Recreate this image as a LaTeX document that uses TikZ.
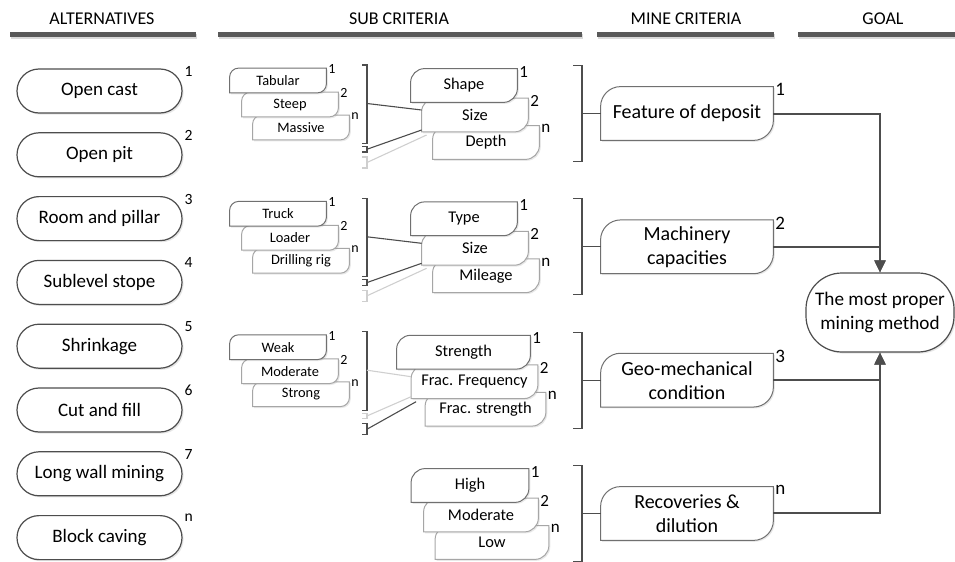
\documentclass[tikz,border=0pt]{standalone}
\usepackage{fontspec}
\setmainfont{Carlito}
\usetikzlibrary{positioning,arrows.meta,shadows}

\definecolor{bargray}{HTML}{595959}
\definecolor{linegray}{HTML}{4D4D4D}
\definecolor{boxgray}{HTML}{707070}
\definecolor{softgray}{HTML}{A6A6A6}
\definecolor{palegray}{HTML}{CFCFCF}

\pgfdeclarelayer{bg}
\pgfsetlayers{bg,main}

% outline with two round corners (top left, bottom right) behind a named node
\newcommand\leafbox[3]{%
  \begin{pgfonlayer}{bg}
    \draw[#3] (#1.south west) -- ([yshift=-#2]#1.north west)
      arc[start angle=180, end angle=90, radius=#2] -- (#1.north east)
      -- ([yshift=#2]#1.south east)
      arc[start angle=0, end angle=-90, radius=#2] -- cycle;
  \end{pgfonlayer}}

\tikzset{
  head/.style={inner sep=0pt, font=\fontsize{9}{10}\selectfont},
  bar/.style={fill=bargray, drop shadow={opacity=.3, shadow xshift=.6pt, shadow yshift=-.8pt}},
  alt/.style={draw=linegray, line width=.6pt, fill=white, rounded corners=11pt,
    minimum width=82.5pt, minimum height=22pt, inner sep=0pt,
    font=\fontsize{9.5}{11}\selectfont,
    drop shadow={opacity=.2, shadow xshift=.8pt, shadow yshift=-.8pt}},
  crit/.style={minimum width=86pt, minimum height=26.5pt, inner sep=0pt, align=center,
    font=\fontsize{10}{12}\selectfont},
  goal/.style={draw=linegray, line width=.6pt, fill=white, rounded corners=18pt,
    minimum width=74pt, minimum height=39.5pt, inner sep=0pt, align=center,
    font=\fontsize{9.6}{12}\selectfont,
    drop shadow={opacity=.2, shadow xshift=.8pt, shadow yshift=-.8pt}},
  sub/.style={minimum width=#1, minimum height=16.5pt, inner sep=0pt,
    font=\fontsize{8.2}{9}\selectfont},
  subsub/.style={minimum width=48pt, minimum height=12pt, inner sep=0pt,
    font=\fontsize{7.2}{8}\selectfont},
  num/.style={anchor=west, inner sep=.8pt, yshift=-1.5pt, font=\fontsize{#1}{#1}\selectfont},
  outline/.style={draw=#1, line width=.5pt, fill=white,
    drop shadow={opacity=.18, shadow xshift=.7pt, shadow yshift=-.7pt}},
  brk/.style={draw=linegray, line width=.6pt},
  tie/.style={draw=#1, line width=.55pt},
  link/.style={draw=linegray, line width=1pt},
  goalarrow/.style={link, -{Triangle[width=5.5pt,length=6pt]}},
}

\begin{document}
\begin{tikzpicture}[x=0.5pt,y=-0.5pt]
  \useasboundingbox (0,0) rectangle (955,562);

  % column heads
  \foreach \hx/\ha/\hb/\htxt [count=\i] in {102/10/196/ALTERNATIVES, 399/218/582/SUB CRITERIA,
      686/597/774/MINE CRITERIA, 883/798/955/GOAL} {
    \node[head] (head-\i) at (\hx,19) {\htxt};
    \fill[bar] (\ha,32) rectangle (\hb,37);
  }

  % alternatives
  \foreach \lab/\nr [count=\i] in {Open cast/1, Open pit/2, Room and pillar/3, Sublevel stope/4,
      Shrinkage/5, Cut and fill/6, Long wall mining/7, Block caving/n} {
    \node[alt, label={[num=7.8]north east:\nr}] (alt-\i) at (99.5,{91+63.8*(\i-1)}) {\lab};
  }

  % mine criteria
  \foreach \lab/\nr [count=\i] in {Feature of deposit/1, {Machinery\\capacities}/2,
      {Geo-mechanical\\condition}/3, {Recoveries \&\\dilution}/n} {
    \pgfmathsetmacro\cy{113.5+133.33*(\i-1)}
    \node[crit, label={[num=9.5]north east:\nr}] (crit-\i) at (687,\cy) {\lab};
    \leafbox{crit-\i}{10pt}{outline=boxgray}
    \draw[brk] (573,\cy-48) -- (582,\cy-48) -- (582,\cy+48) -- (573,\cy+48);
    \coordinate (join-\i) at (582,\cy);
    \draw[brk] (join-\i) -- (crit-\i.west);
  }

  % sub criteria
  \foreach \g/\gy/\gx/\wa/\wb/\wc/\ta/\tb/\tc in {
      1/113.5/464/53pt/53pt/53pt/Shape/Size/Depth,
      2/246.8/464/53pt/53pt/53pt/Type/Size/Mileage,
      3/380.2/463.5/66.5pt/63pt/60pt/Strength/Frac. Frequency/Frac. strength,
      4/513.5/470/58.5pt/57pt/56.5pt/High/Moderate/Low} {
    \foreach \k/\dx/\dy/\bw/\lab/\nr/\col in {3/22/29/\wc/\tc/n/softgray,
        2/11/1.5/\wb/\tb/2/softgray, 1/0/-28/\wa/\ta/1/boxgray} {
      \node[sub=\bw, label={[num=8.5]north east:\nr}] (sub-\g-\k) at (\gx+\dx,\gy+\dy) {\lab};
      \leafbox{sub-\g-\k}{7pt}{outline=\col}
    }
  }

  % options of the sub criteria
  \foreach \g/\gy/\ta/\tb/\tc/\ca/\cb/\cc in {
      1/113.5/Tabular/Steep/Massive/linegray/linegray/palegray,
      2/246.8/Truck/Loader/Drilling rig/linegray/linegray/palegray,
      3/380.2/Weak/Moderate/Strong/palegray/palegray/linegray} {
    \foreach \k/\dx/\dy/\lab/\nr/\col in {3/23/14/\tc/n/softgray, 2/12/-9/\tb/2/softgray,
        1/0/-33/\ta/1/boxgray} {
      \node[subsub, label={[num=7, yshift=1pt]north east:\nr}] (opt-\g-\k) at (278+\dx,\gy+\dy) {\lab};
      \leafbox{opt-\g-\k}{4.5pt}{outline=\col}
    }
    \draw[brk] (362,\gy-48.5) -- (367,\gy-48.5) -- (367,\gy+30) -- (362,\gy+30);
    \draw[tie=\cb] (362,\gy+33) -- (367,\gy+33) -- (367,\gy+38.5) -- (362,\gy+38.5);
    \draw[tie=\cc] (362,\gy+43.5) -- (367,\gy+43.5) -- (367,\gy+54.5) -- (362,\gy+54.5);
    \coordinate (tie-\g-a) at (367,\gy-10);
    \coordinate (tie-\g-b) at (367,\gy+35.75);
    \coordinate (tie-\g-c) at (367,\gy+49);
    \draw[tie=\ca] (tie-\g-a) -- ([yshift=2.5pt]sub-\g-2.west);
    \draw[tie=\cb] (tie-\g-b) -- ([yshift=-7.5pt]sub-\g-2.west);
    \draw[tie=\cc] (tie-\g-c) -- ([xshift=2.5pt,yshift=-10pt]sub-\g-2.west);
  }

  % goal
  \node[goal] (goal) at (880,312.5) {The most proper\\mining method};
  \foreach \i in {1,2}
    \draw[goalarrow] (crit-\i.east) -| (goal.north);
  \foreach \i in {3,4}
    \draw[goalarrow] (crit-\i.east) -| (goal.south);
\end{tikzpicture}
\end{document}
